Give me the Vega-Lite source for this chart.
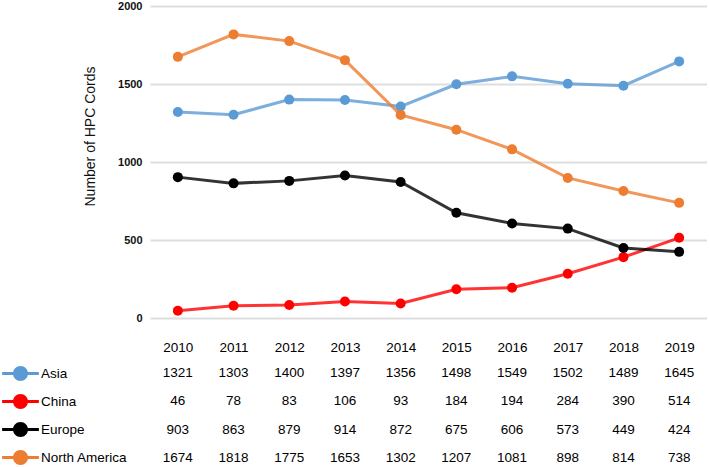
{
  "$schema": "https://vega.github.io/schema/vega-lite/v6.json",
  "padding": {"left": 13, "top": 0, "right": 0, "bottom": 0},
  "config": {
    "view": {"stroke": null},
    "font": "Liberation Sans",
    "concat": {"spacing": 5}
  },
  "data": {
    "values": [
      {"year": "2010", "series": "Asia", "value": 1321},
      {"year": "2011", "series": "Asia", "value": 1303},
      {"year": "2012", "series": "Asia", "value": 1400},
      {"year": "2013", "series": "Asia", "value": 1397},
      {"year": "2014", "series": "Asia", "value": 1356},
      {"year": "2015", "series": "Asia", "value": 1498},
      {"year": "2016", "series": "Asia", "value": 1549},
      {"year": "2017", "series": "Asia", "value": 1502},
      {"year": "2018", "series": "Asia", "value": 1489},
      {"year": "2019", "series": "Asia", "value": 1645},
      {"year": "2010", "series": "China", "value": 46},
      {"year": "2011", "series": "China", "value": 78},
      {"year": "2012", "series": "China", "value": 83},
      {"year": "2013", "series": "China", "value": 106},
      {"year": "2014", "series": "China", "value": 93},
      {"year": "2015", "series": "China", "value": 184},
      {"year": "2016", "series": "China", "value": 194},
      {"year": "2017", "series": "China", "value": 284},
      {"year": "2018", "series": "China", "value": 390},
      {"year": "2019", "series": "China", "value": 514},
      {"year": "2010", "series": "Europe", "value": 903},
      {"year": "2011", "series": "Europe", "value": 863},
      {"year": "2012", "series": "Europe", "value": 879},
      {"year": "2013", "series": "Europe", "value": 914},
      {"year": "2014", "series": "Europe", "value": 872},
      {"year": "2015", "series": "Europe", "value": 675},
      {"year": "2016", "series": "Europe", "value": 606},
      {"year": "2017", "series": "Europe", "value": 573},
      {"year": "2018", "series": "Europe", "value": 449},
      {"year": "2019", "series": "Europe", "value": 424},
      {"year": "2010", "series": "North America", "value": 1674},
      {"year": "2011", "series": "North America", "value": 1818},
      {"year": "2012", "series": "North America", "value": 1775},
      {"year": "2013", "series": "North America", "value": 1653},
      {"year": "2014", "series": "North America", "value": 1302},
      {"year": "2015", "series": "North America", "value": 1207},
      {"year": "2016", "series": "North America", "value": 1081},
      {"year": "2017", "series": "North America", "value": 898},
      {"year": "2018", "series": "North America", "value": 814},
      {"year": "2019", "series": "North America", "value": 738}
    ]
  },
  "vconcat": [
    {
      "width": 557,
      "height": 312,
      "encoding": {
        "x": {
          "field": "year",
          "type": "ordinal",
          "axis": {
            "title": null,
            "labelAngle": 0,
            "domain": false,
            "ticks": false,
            "tickSize": 0,
            "labelPadding": 22,
            "labelFontSize": 13.5,
            "labelColor": "#000000"
          }
        },
        "y": {
          "field": "value",
          "type": "quantitative",
          "scale": {"domain": [0, 2000], "nice": false},
          "axis": {
            "values": [0, 500, 1000, 1500, 2000],
            "format": "d",
            "title": "Number of HPC Cords",
            "titleFontSize": 14,
            "titleFontWeight": "normal",
            "titleColor": "#111111",
            "titleX": -60,
            "titleY": 130,
            "titleBaseline": "middle",
            "titleAngle": -90,
            "labelFontSize": 11,
            "labelFontWeight": "bold",
            "labelColor": "#111111",
            "labelPadding": 8,
            "domain": false,
            "ticks": false,
            "tickSize": 0,
            "gridColor": "#dedede",
            "gridWidth": 2
          }
        },
        "color": {
          "field": "series",
          "type": "nominal",
          "scale": {
            "domain": ["Asia", "China", "Europe", "North America"],
            "range": ["#5B9BD5", "#FF0000", "#000000", "#ED7D31"]
          },
          "legend": {
            "title": null,
            "orient": "none",
            "legendX": -137,
            "legendY": 360,
            "direction": "vertical",
            "symbolType": "M-2.45,-0.2L2.45,-0.2L2.45,0.2L-2.45,0.2Z M-1,0A1,1 0 1,1 1,0A1,1 0 1,1 -1,0Z",
            "symbolSize": 225,
            "symbolStrokeWidth": 0,
            "symbolOpacity": 1,
            "labelFontSize": 13.5,
            "labelColor": "#000000",
            "labelOffset": 13,
            "rowPadding": 13,
            "labelLimit": 200,
            "encode": {
              "symbols": {
                "update": {
                  "fill": {"scale": "color", "field": "value"},
                  "strokeWidth": {"value": 0},
                  "opacity": {"value": 1}
                }
              }
            }
          }
        }
      },
      "layer": [
        {"mark": {"type": "line", "strokeWidth": 3, "opacity": 0.8}},
        {"mark": {"type": "circle", "size": 100, "opacity": 1}}
      ]
    },
    {
      "width": 557,
      "height": 113,
      "mark": {
        "type": "text",
        "fontSize": 13.5,
        "color": "#000000",
        "baseline": "middle",
        "align": "center"
      },
      "encoding": {
        "x": {"field": "year", "type": "ordinal", "axis": null},
        "y": {
          "field": "series",
          "type": "nominal",
          "axis": null,
          "scale": {
            "domain": ["Asia", "China", "Europe", "North America"],
            "paddingInner": 0,
            "paddingOuter": 0
          }
        },
        "text": {"field": "value", "type": "quantitative"}
      }
    }
  ]
}
